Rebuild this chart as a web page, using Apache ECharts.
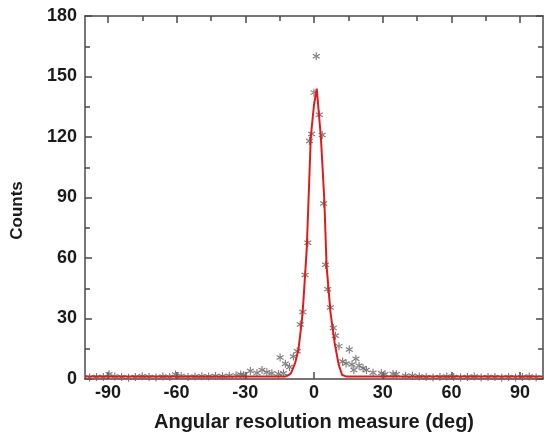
<!DOCTYPE html>
<html><head><meta charset="utf-8">
<script src="https://cdn.jsdelivr.net/npm/echarts@6/dist/echarts.min.js"></script>
<style>html,body{margin:0;padding:0;background:#fff}#c{width:544px;height:436px}</style>
</head><body><div id="c"></div>
<script>
const xMajorTicks = [-90, -60, -30, 0, 30, 60, 90];
const xMinorTicks = [-75, -45, -15, 15, 45, 75];
const scatterX = [-98,-95,-92,-89.5,-87,-84,-81,-78,-75,-72,-69,-66,-63,-60.5,-58,-55,-52,-49,-46,-43,-40,-37,-34,-32,
  -30.7,-27.8,-24.9,-22.7,-20.6,-18.4,-15.5,-14.8,-13.3,-12.5,-10.7,-9,-7.3,-6,-4.9,-3.9,-2.7,-2,-1,0,1,2.3,3.6,4.2,5,6,7.1,8.4,9.4,10.9,12.5,14,15.4,16.6,17.4,18.3,19.7,21.4,22.9,25.8,29.4,31,34.5,36,40,43,
  46,49,52,55,58,61,64,67,70,73,76,79,82,85,88,91,94,97];
const scatterY = [0.8,1,1,2.4,1.3,1,0.6,1,1.4,1,0.8,1.2,1,2.2,1.5,1,1.2,1.4,1.2,1.5,1.4,1.6,1.8,2.2,
  2,4,3,4.5,3.3,2.8,2.5,10.7,2.8,7.6,6,11.2,13.8,27,33.2,51.6,67.6,118,121.5,142,160,131,121,87,56.7,44.5,35.4,25.3,21.4,16.3,8.7,7.7,14.6,7.2,4.5,10,6.6,5.3,4.5,3.1,2.8,2.3,2.5,2.3,1.6,1.6,
  1.2,1,0.8,1,1.2,1,0.8,1,1.2,0.8,1,1,0.6,1,0.8,1,1.2,0.8];
const lineX = [-100,-12.5,-11,-10,-8.3,-6.8,-5.3,-4.6,-3.2,-2.5,-1.4,0,1.2,3.0,4.5,5.5,7.2,9,10.8,12.3,14,100];
const lineY = [1.2,1.3,2,3,7.7,14.4,29,39,64,85,120,136,144,120,89,56,33,18,7,2,1.3,1.2];

const star = 'path://M-0.7,-5L0.7,-5L0.7,5L-0.7,5Z M3.98,3.11L4.68,1.89L-3.98,-3.11L-4.68,-1.89Z M-4.68,1.89L-3.98,3.11L4.68,-1.89L3.98,-3.11Z';
const axisColor = '#4a4a4a';
const font = '"Liberation Sans", Arial, sans-serif';
const chart = echarts.init(document.getElementById('c'));
function xax(pos, ticks, len, showLine, showLabel) {
  return {
    type: 'value', position: pos, min: -100, max: 100,
    axisLine: {show: showLine, onZero: false, lineStyle: {color: axisColor, width: 1.5}},
    axisTick: {show: true, inside: true, length: len, customValues: ticks, lineStyle: {color: axisColor, width: 1.5}},
    axisLabel: {show: showLabel, customValues: xMajorTicks, margin: 5, color: '#1a1a1a', fontSize: 18, fontWeight: 'bold', fontFamily: font},
    splitLine: {show: false}
  };
}
const xAxes = [
  Object.assign(xax('bottom', xMajorTicks, 7, true, true), {
    name: 'Angular resolution measure (deg)', nameLocation: 'middle', nameGap: 33,
    nameTextStyle: {color: '#1a1a1a', fontSize: 20, fontWeight: 'bold', fontFamily: font}
  }),
  xax('top', xMajorTicks, 7, true, false),
  xax('top', xMinorTicks, 5, false, false)
];
function yax(pos, showLabel) {
  return {
    type: 'value', position: pos, min: 0, max: 180, interval: 30,
    axisLine: {show: true, onZero: false, lineStyle: {color: axisColor, width: 1.5}},
    axisTick: {show: true, inside: true, length: 7, lineStyle: {color: axisColor, width: 1.5}},
    minorTick: {show: true, splitNumber: 2, length: 5, lineStyle: {color: axisColor, width: 1.5}},
    axisLabel: {show: showLabel, margin: 8, color: '#1a1a1a', fontSize: 18, fontWeight: 'bold', fontFamily: font},
    splitLine: {show: false}, minorSplitLine: {show: false}
  };
}
const yAxes = [
  Object.assign(yax('left', true), {
    name: 'Counts', nameLocation: 'middle', nameGap: 59, nameRotate: 90,
    nameTextStyle: {color: '#1a1a1a', fontSize: 17, fontWeight: 'bold', fontFamily: font, padding: [0, 26, 0, 0]}
  }),
  yax('right', false)
];
chart.setOption({
  animation: false,
  backgroundColor: '#fff',
  grid: {left: 85, right: 1, top: 16, bottom: 57, containLabel: false, outerBoundsMode: 'none'},
  xAxis: xAxes,
  yAxis: yAxes,
  series: [
    {type: 'scatter', xAxisIndex: 0, yAxisIndex: 0, symbol: star, symbolSize: 8, symbolKeepAspect: true,
     itemStyle: {color: '#6a6a6a', opacity: 0.9}, z: 2,
     data: scatterX.map((x, i) => [x, scatterY[i]])},
    {type: 'line', xAxisIndex: 0, yAxisIndex: 0, showSymbol: false, symbol: 'none',
     lineStyle: {color: '#e01b1b', width: 2}, z: 3,
     data: lineX.map((x, i) => [x, lineY[i]])}
  ]
});
</script></body></html>
